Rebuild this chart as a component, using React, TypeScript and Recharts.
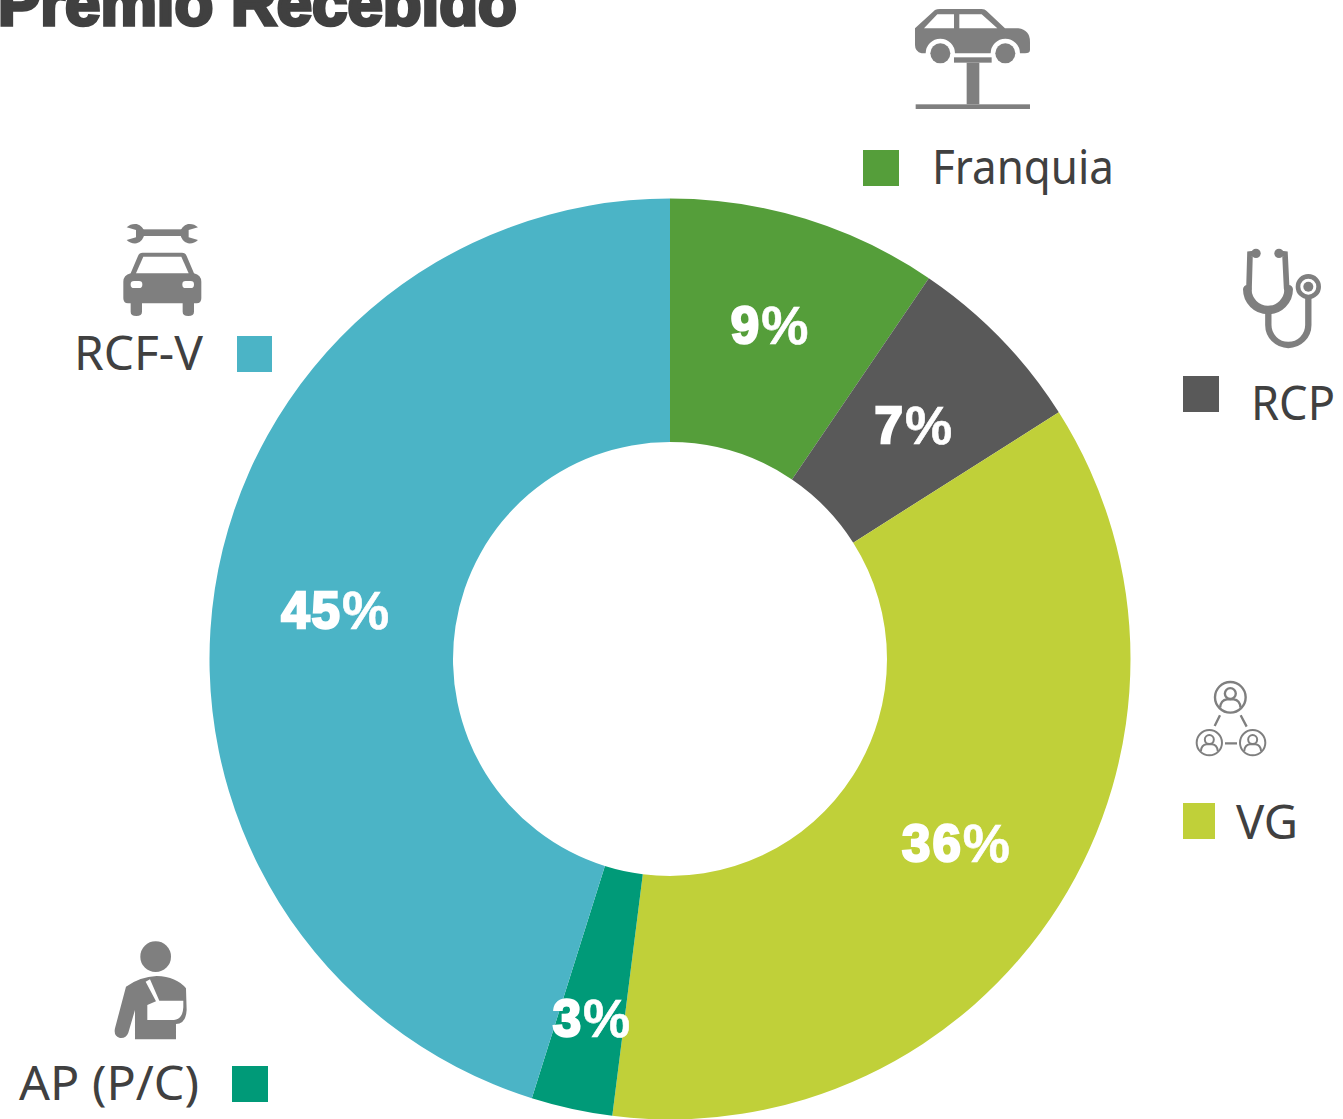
import { PieChart, Pie, Cell } from 'recharts'

const categories = ['Franquia', 'RCP', 'VG', 'AP (P/C)', 'RCF-V']
const shares = [9.5, 6.5, 36, 2.85, 45.15]
const shareLabels = ['9%', '7%', '36%', '3%', '45%']
const colors = ['#559e3a', '#595959', '#c0d039', '#009a78', '#4bb4c6']

const WIDTH = 1343
const HEIGHT = 1119
const ICON = '#7f7f7f'
const TEXT = '#404040'

const pieData = categories.map((name, i) => ({ name, value: shares[i] }))

// labels were hand placed in the original, so each gets a small vertical nudge
const LABEL_NUDGE = [-10, 2, 2, -1, 2]

const renderLabel = (props: any) => {
  const { cx, cy, midAngle, innerRadius, outerRadius, index } = props
  const r = index === 3 ? 368 : (innerRadius + outerRadius) / 2
  const rad = (-midAngle * Math.PI) / 180
  const label = shareLabels[index]
  return (
    <text
      x={cx + r * Math.cos(rad) + 1}
      y={cy + r * Math.sin(rad) + LABEL_NUDGE[index]}
      fill="#fff"
      textAnchor="middle"
      dominantBaseline="central"
      fontFamily="Liberation Sans"
      fontWeight="bold"
      fontSize={51}
      letterSpacing={2}
    >
      <tspan stroke="#fff" strokeWidth={2.5}>{label.slice(0, -1)}</tspan>
      <tspan fontSize={53} stroke="#fff" strokeWidth={0.6}>%</tspan>
    </text>
  )
}

function LegendItem({ index, boxX, boxY, boxW, textX, textY, textW }: any) {
  return (
    <g>
      <rect x={boxX} y={boxY} width={boxW} height={36} fill={colors[index]} />
      <text
        x={textX}
        y={textY}
        fill={TEXT}
        fontFamily="Noto Sans"
        fontSize={47}
        textLength={textW}
        lengthAdjust="spacingAndGlyphs"
      >
        {categories[index]}
      </text>
    </g>
  )
}

// icons are drawn at 3x, in the coordinates of the zoomed crops
function LiftIcon() {
  return (
    <g transform="translate(880,0) scale(0.3333)" fill={ICON}>
      <path d="M105 85 L165 30 Q170 27 180 27 L305 27 Q315 27 320 33 L375 85 L415 85 Q450 90 450 125 L450 150 Q450 160 435 160 L420 160 A44 44 0 0 0 332 160 L225 160 A44 44 0 0 0 137 160 L125 160 Q105 155 105 135 Z" />
      <path d="M132 85 L172 43 L222 43 L222 85 Z M238 43 L305 43 L352 85 L238 85 Z" fill="#fff" />
      <circle cx={181} cy={160} r={30} />
      <circle cx={376} cy={160} r={30} />
      <rect x={222} y={172} width={113} height={16} />
      <rect x={260} y={188} width={38} height={125} />
      <rect x={107} y={313} width={343} height={14} />
    </g>
  )
}

function StethoscopeIcon() {
  return (
    <g transform="translate(1170,240) scale(0.3333)" fill="none" stroke={ICON} strokeLinecap="round">
      <path d="M258 40 L240 42 L237 145 M327 40 L345 42 L350 145" strokeWidth={17} />
      <path d="M232 148 A62 62 0 0 0 356 148" strokeWidth={26} />
      <path d="M295 210 L295 255 A60 60 0 0 0 415 255 L415 175" strokeWidth={19} />
      <circle cx={258} cy={40} r={14} fill={ICON} stroke="none" />
      <circle cx={327} cy={40} r={14} fill={ICON} stroke="none" />
      <circle cx={415} cy={140} r={31} strokeWidth={14} />
      <circle cx={415} cy={140} r={15} fill={ICON} stroke="none" />
    </g>
  )
}

function PersonCircle({ x, y, r }: any) {
  const k = r / 45
  return (
    <g transform={`translate(${x},${y}) scale(${k})`}>
      <circle r={45} strokeWidth={7} />
      <circle cy={-11} r={16} strokeWidth={7} />
      <path d="M-30 30 Q-28 8 -10 6 L10 6 Q28 8 30 30" strokeWidth={7} />
    </g>
  )
}

function NetworkIcon() {
  return (
    <g transform="translate(1170,670) scale(0.3333)" fill="none" stroke={ICON}>
      <PersonCircle x={181} y={82} r={46} />
      <PersonCircle x={118} y={218} r={38} />
      <PersonCircle x={248} y={218} r={38} />
      <path d="M150 136 L134 168 M212 136 L230 170 M165 220 L201 220" strokeWidth={7} />
    </g>
  )
}

function RepairIcon() {
  return (
    <g transform="translate(60,210) scale(0.3333)" fill={ICON}>
      <rect x={240} y={58} width={135} height={20} />
      <path d="M200 52 Q212 40 230 42 Q250 48 254 68 Q250 94 230 100 Q212 102 200 90 L228 82 L228 60 Z" />
      <path d="M414 52 Q402 40 384 42 Q364 48 360 68 Q364 94 384 100 Q402 102 414 90 L386 82 L386 60 Z" />
      <path d="M248 128 L366 128 Q376 128 380 138 L402 190 Q424 196 424 215 L424 265 Q424 280 410 280 L402 280 L402 305 Q402 318 385 318 Q368 318 368 305 L368 280 L246 280 L246 305 Q246 318 229 318 Q212 318 212 305 L212 280 L204 280 Q190 280 190 265 L190 215 Q190 196 212 190 L234 138 Q238 128 248 128 Z" />
      <path d="M250 140 L364 140 L386 190 L228 190 Z" fill="#fff" />
      <rect x={212} y={213} width={35} height={21} rx={10} fill="#fff" />
      <rect x={367} y={213} width={35} height={21} rx={10} fill="#fff" />
    </g>
  )
}

function InjuredIcon() {
  return (
    <g transform="translate(0,930) scale(0.3333)" fill={ICON}>
      <circle cx={467} cy={80} r={46} />
      <path d="M378 170 Q420 140 470 138 Q530 140 558 175 L560 240 Q558 282 528 282 L528 328 L405 328 L405 240 L385 308 Q378 326 360 324 Q340 318 345 295 Z" />
      <path d="M437 155 L450 148 L478 212 L550 212 L550 232 Q548 268 522 270 L442 270 L442 225 L468 214 Z" fill="#fff" />
    </g>
  )
}

export default function App() {
  return (
    <div style={{ position: 'absolute', left: 0, top: 0, width: WIDTH, height: HEIGHT, overflow: 'hidden', background: '#fff' }}>
      <PieChart width={WIDTH} height={HEIGHT} margin={{ top: 0, right: 0, bottom: 0, left: 0 }}>
        <Pie
          data={pieData}
          dataKey="value"
          cx={670}
          cy={659}
          innerRadius={217}
          outerRadius={460.5}
          startAngle={90}
          endAngle={-270}
          stroke="none"
          label={renderLabel}
          labelLine={false}
          isAnimationActive={false}
        >
          {pieData.map((_, index) => (
            <Cell key={`cell-${index}`} fill={colors[index]} />
          ))}
        </Pie>
      </PieChart>
      <svg width={WIDTH} height={HEIGHT} style={{ position: 'absolute', left: 0, top: 0 }}>
        <text x={-2} y={25} fill={TEXT} stroke={TEXT} strokeWidth={3.5} fontFamily="Liberation Sans" fontWeight="bold" fontSize={63.5}>
          Premio Recebido
        </text>
        <LiftIcon />
        <StethoscopeIcon />
        <NetworkIcon />
        <RepairIcon />
        <InjuredIcon />
        <LegendItem index={0} boxX={863} boxY={150} boxW={36} textX={932} textY={184} textW={182} />
        <LegendItem index={1} boxX={1183} boxY={376} boxW={36} textX={1251} textY={420} textW={84} />
        <LegendItem index={2} boxX={1183} boxY={803} boxW={32} textX={1236} textY={839} textW={62} />
        <LegendItem index={4} boxX={237} boxY={336} boxW={35} textX={74} textY={370} textW={129} />
        <LegendItem index={3} boxX={232} boxY={1066} boxW={36} textX={19} textY={1100} textW={180} />
      </svg>
    </div>
  )
}
